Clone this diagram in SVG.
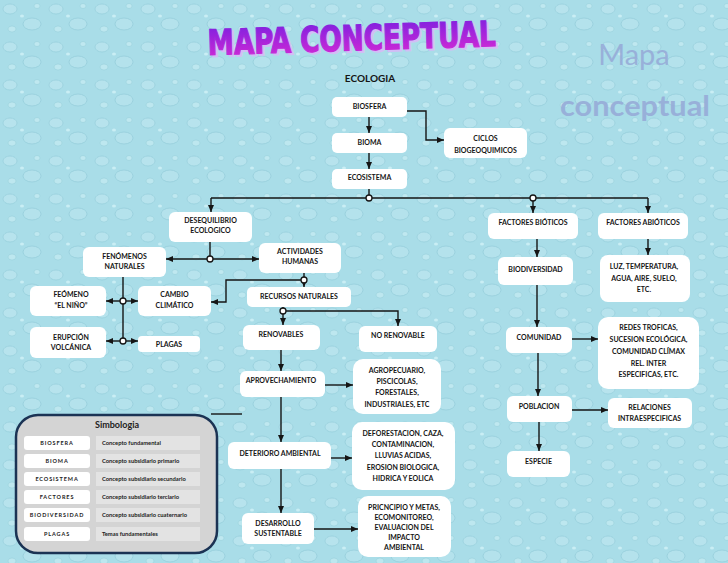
<svg xmlns="http://www.w3.org/2000/svg" width="728" height="563" viewBox="0 0 728 563">
<defs>
<style>
.n rect{fill:#ffffff}
.t{font-family:Lato,"Open Sans",sans-serif;font-weight:bold;font-size:7px;text-anchor:middle;fill:#151515}
.c path{fill:none;stroke:#151515;stroke-width:1.4}
.c path.a{marker-end:url(#ar)}
.c circle{fill:#ffffff;stroke:#151515;stroke-width:1.3}
.lg rect.w{fill:#ffffff}
.lg rect.g{fill:#e3e3e3}
.lk{font-family:Lato,"Open Sans",sans-serif;font-weight:bold;font-size:5.5px;letter-spacing:0.9px;text-anchor:middle;fill:#222}
.lv{font-family:Lato,"Open Sans",sans-serif;font-weight:bold;font-size:5.8px;fill:#222}
.wm{font-family:Lato,"Open Sans",sans-serif;fill:#97acd8;opacity:0.9}
.tt{font-family:"Liberation Sans Narrow","DejaVu Sans Condensed","DejaVu Sans",sans-serif;font-weight:900;font-size:35px;text-anchor:middle}
</style>
<marker id="ar" markerUnits="userSpaceOnUse" markerWidth="7" markerHeight="6" refX="7" refY="3" orient="auto">
<path d="M0,0 L7,3 L0,6 z" fill="#151515"/>
</marker>
<linearGradient id="tg" x1="0" y1="0" x2="0" y2="1">
<stop offset="0" stop-color="#7a20e0"/>
<stop offset="1" stop-color="#d82ad4"/>
</linearGradient>
<pattern id="drops" width="46" height="38" patternUnits="userSpaceOnUse">
<rect width="46" height="38" fill="#a9dde8"/>
<ellipse cx="10" cy="9" rx="7" ry="5" fill="#b7e3ed" stroke="#90cbd9" stroke-width="0.6"/>
<ellipse cx="32" cy="24" rx="9" ry="6" fill="#b4e2ec" stroke="#8dc8d7" stroke-width="0.6"/>
<ellipse cx="37" cy="6" rx="3" ry="2.5" fill="#bfe8f0" stroke="#92ccd9" stroke-width="0.5"/>
<ellipse cx="12" cy="29" rx="4" ry="3" fill="#bde7ef" stroke="#92ccd9" stroke-width="0.5"/>
<ellipse cx="22" cy="16" rx="2" ry="1.6" fill="#c9eef4"/>
</pattern>
</defs>
<rect width="728" height="563" fill="url(#drops)"/>

<g id="title" transform="rotate(-1.8 352 50.5)">
<text class="tt" x="354" y="52.5" textLength="288" lengthAdjust="spacingAndGlyphs" fill="#d2bdf6" stroke="#d2bdf6" stroke-width="1.2">MAPA CONCEPTUAL</text>
<text class="tt" x="352" y="50.5" textLength="288" lengthAdjust="spacingAndGlyphs" fill="url(#tg)" stroke="url(#tg)" stroke-width="1.2">MAPA CONCEPTUAL</text>
</g>
<g id="watermark">
<text class="wm" x="634" y="65" text-anchor="middle" font-size="29">Mapa</text>
<text class="wm" x="635" y="116" text-anchor="middle" font-size="28" font-weight="bold" textLength="150" lengthAdjust="spacingAndGlyphs">conceptual</text>
</g>
<text id="ecologia" x="370" y="82" font-family="Lato,'Open Sans',sans-serif" font-weight="bold" font-size="10" text-anchor="middle" fill="#151515">ECOLOGIA</text>

<g class="c" id="connectors">
<path class="a" d="M369,117 V133"/>
<path class="a" d="M369,153 V169"/>
<path class="a" d="M407,111 H426 V140 H444"/>
<path d="M369,189 V198"/>
<path d="M211,198 H648"/>
<path class="a" d="M211,198 V212"/>
<path class="a" d="M533,198 V213"/>
<path class="a" d="M648,198 V213"/>
<path d="M210,242 V259"/>
<path class="a" d="M210,259 H166"/>
<path class="a" d="M210,259 H259"/>
<path d="M123,277 V341"/>
<path class="a" d="M123,301 H106"/>
<path class="a" d="M123,301 H138"/>
<path class="a" d="M123,341 H106"/>
<path class="a" d="M123,341 H138"/>
<path class="a" d="M304,273 V287"/>
<path class="a" d="M304,280 H226 V302 H211"/>
<path class="a" d="M283,307 V325"/>
<path class="a" d="M283,311 H398 V326"/>
<path class="a" d="M281,350 V371"/>
<path class="a" d="M325,385 H353"/>
<path class="a" d="M281,397 V442"/>
<path d="M211,414 H242"/>
<path class="a" d="M331,458 H352"/>
<path class="a" d="M281,469 V513"/>
<path class="a" d="M314,529 H358"/>
<path class="a" d="M537,239 V257"/>
<path class="a" d="M648,239 V255"/>
<path class="a" d="M537,285 V327"/>
<path class="a" d="M572,339 H598"/>
<path class="a" d="M538,353 V396"/>
<path class="a" d="M572,410 H608"/>
<path class="a" d="M539,422 V451"/>
<circle cx="369" cy="198" r="3"/>
<circle cx="533" cy="198" r="3"/>
<circle cx="210" cy="259" r="3"/>
<circle cx="123" cy="301" r="3"/>
<circle cx="123" cy="341" r="3"/>
<circle cx="304" cy="280" r="3"/>
<circle cx="283" cy="311" r="3"/>
</g>

<g class="n" id="n-biosfera"><rect x="332" y="97" width="75" height="20" rx="5"/><text class="t" x="369.5" y="108.5">BIOSFERA</text></g>
<g class="n" id="n-bioma"><rect x="332" y="133" width="75" height="20" rx="5"/><text class="t" x="369.5" y="144.5">BIOMA</text></g>
<g class="n" id="n-ecosistema"><rect x="332" y="169" width="75" height="20" rx="5"/><text class="t" x="369.5" y="180">ECOSISTEMA</text></g>
<g class="n" id="n-ciclos"><rect x="444" y="128" width="83" height="30" rx="6"/><text class="t" x="485.5" y="140.5">CICLOS</text><text class="t" x="485.5" y="152.5">BIOGEOQUIMICOS</text></g>
<g class="n" id="n-desequilibrio"><rect x="169" y="212" width="83" height="30" rx="6"/><text class="t" x="210.5" y="222.5">DESEQUILIBRIO</text><text class="t" x="210.5" y="232.5">ECOLOGICO</text></g>
<g class="n" id="n-actividades"><rect x="259" y="243" width="82" height="30" rx="6"/><text class="t" x="300" y="253.5">ACTIVIDADES</text><text class="t" x="300" y="263.5">HUMANAS</text></g>
<g class="n" id="n-fenomenos"><rect x="83" y="247" width="83" height="30" rx="6"/><text class="t" x="124.5" y="258.5">FENÓMENOS</text><text class="t" x="124.5" y="268.5">NATURALES</text></g>
<g class="n" id="n-nino"><rect x="30" y="286" width="76" height="30" rx="6"/><text class="t" x="71" y="296.5">FEÓMENO</text><text class="t" x="71" y="307.5">“EL NIÑO”</text></g>
<g class="n" id="n-cambio"><rect x="138" y="286" width="73" height="30" rx="6"/><text class="t" x="174.5" y="296.5">CAMBIO</text><text class="t" x="174.5" y="307.5">CLIMÁTICO</text></g>
<g class="n" id="n-erupcion"><rect x="30" y="327" width="76" height="31" rx="6"/><text class="t" x="71" y="339.5">ERUPCIÓN</text><text class="t" x="71" y="349.5">VOLCÁNICA</text></g>
<g class="n" id="n-plagas"><rect x="138" y="336" width="62" height="16" rx="4"/><text class="t" x="169" y="346.5">PLAGAS</text></g>
<g class="n" id="n-recursos"><rect x="247" y="287" width="104" height="20" rx="5"/><text class="t" x="299" y="298.5">RECURSOS NATURALES</text></g>
<g class="n" id="n-renovables"><rect x="243" y="325" width="77" height="25" rx="6"/><text class="t" x="281" y="336.5">RENOVABLES</text></g>
<g class="n" id="n-norenovable"><rect x="359" y="326" width="78" height="26" rx="6"/><text class="t" x="398" y="337.5">NO RENOVABLE</text></g>
<g class="n" id="n-aprovechamiento"><rect x="240" y="371" width="85" height="26" rx="6"/><text class="t" x="281" y="382.5">APROVECHAMIENTO</text></g>
<g class="n" id="n-agropecuario"><rect x="353" y="359" width="88" height="55" rx="10"/><text class="t" x="397" y="372.5">AGROPECUARIO,</text><text class="t" x="397" y="383.5">PISCICOLAS,</text><text class="t" x="397" y="394.5">FORESTALES,</text><text class="t" x="397" y="406.5">INDUSTRIALES, ETC</text></g>
<g class="n" id="n-deterioro"><rect x="228" y="442" width="103" height="27" rx="6"/><text class="t" x="280" y="455.5">DETERIORO AMBIENTAL</text></g>
<g class="n" id="n-deforestacion"><rect x="352" y="422" width="103" height="68" rx="10"/><text class="t" x="403" y="435.5">DEFORESTACION, CAZA,</text><text class="t" x="403" y="446.5">CONTAMINACION,</text><text class="t" x="403" y="457.5">LLUVIAS ACIDAS,</text><text class="t" x="403" y="469.5">EROSION BIOLOGICA,</text><text class="t" x="403" y="480.5">HIDRICA Y EOLICA</text></g>
<g class="n" id="n-desarrollo"><rect x="242" y="513" width="72" height="31" rx="6"/><text class="t" x="278" y="525.5">DESARROLLO</text><text class="t" x="278" y="535.5">SUSTENTABLE</text></g>
<g class="n" id="n-principio"><rect x="358" y="496" width="93" height="61" rx="10"/><text class="t" x="404" y="509.5">PRICNCIPIO Y METAS,</text><text class="t" x="404" y="519.5">ECOMONITOREO,</text><text class="t" x="404" y="529.5">EVALUACION DEL</text><text class="t" x="404" y="539.5">IMPACTO</text><text class="t" x="404" y="549.5">AMBIENTAL</text></g>
<g class="n" id="n-bioticos"><rect x="488" y="213" width="90" height="26" rx="6"/><text class="t" x="533" y="224.5">FACTORES BIÓTICOS</text></g>
<g class="n" id="n-abioticos"><rect x="598" y="213" width="90" height="26" rx="6"/><text class="t" x="643" y="224.5">FACTORES ABIÓTICOS</text></g>
<g class="n" id="n-biodiversidad"><rect x="498" y="257" width="75" height="28" rx="6"/><text class="t" x="535.5" y="271.5">BIODIVERSIDAD</text></g>
<g class="n" id="n-luz"><rect x="600" y="255" width="90" height="47" rx="8"/><text class="t" x="644" y="268.5">LUZ, TEMPERATURA,</text><text class="t" x="644" y="280.5">AGUA, AIRE, SUELO,</text><text class="t" x="644" y="291.5">ETC.</text></g>
<g class="n" id="n-comunidad"><rect x="506" y="327" width="66" height="26" rx="6"/><text class="t" x="539" y="339.5">COMUNIDAD</text></g>
<g class="n" id="n-redes"><rect x="598" y="317" width="101" height="72" rx="10"/><text class="t" x="648.5" y="329.5">REDES TROFICAS,</text><text class="t" x="648.5" y="341.5">SUCESION ECOLÓGICA,</text><text class="t" x="648.5" y="353.5">COMUNIDAD CLÍMAX</text><text class="t" x="648.5" y="365.5">REL. INTER</text><text class="t" x="648.5" y="376.5">ESPECIFICAS, ETC.</text></g>
<g class="n" id="n-poblacion"><rect x="507" y="396" width="65" height="26" rx="6"/><text class="t" x="539" y="408.5">POBLACION</text></g>
<g class="n" id="n-relaciones"><rect x="608" y="398" width="84" height="30" rx="6"/><text class="t" x="649.5" y="409.5">RELACIONES</text><text class="t" x="649.5" y="420.5">INTRAESPECIFICAS</text></g>
<g class="n" id="n-especie"><rect x="507" y="451" width="63" height="26" rx="6"/><text class="t" x="538.5" y="463.5">ESPECIE</text></g>

<g class="lg" id="simbologia">
<rect x="16" y="415" width="201" height="138" rx="22" fill="#d4d4d4" stroke="#1b3354" stroke-width="2.5"/>
<text x="117" y="428" font-family="Lato,'Open Sans',sans-serif" font-weight="bold" font-size="9" text-anchor="middle" fill="#222">Simbologia</text>
<rect class="w" x="24" y="436" width="66" height="14" rx="3"/><rect class="g" x="96" y="436" width="104" height="14"/>
<text class="lk" x="57" y="445">BIOSFERA</text><text class="lv" x="102" y="445">Concepto fundamental</text>
<rect class="w" x="24" y="454" width="66" height="14" rx="3"/><rect class="g" x="96" y="454" width="104" height="14"/>
<text class="lk" x="57" y="463">BIOMA</text><text class="lv" x="102" y="463">Concepto subsidiario primario</text>
<rect class="w" x="24" y="472" width="66" height="14" rx="3"/><rect class="g" x="96" y="472" width="104" height="14"/>
<text class="lk" x="57" y="481">ECOSISTEMA</text><text class="lv" x="102" y="481">Concepto subsidiario secundario</text>
<rect class="w" x="24" y="490" width="66" height="14" rx="3"/><rect class="g" x="96" y="490" width="104" height="14"/>
<text class="lk" x="57" y="499">FACTORES</text><text class="lv" x="102" y="499">Concepto subsidiario terciario</text>
<rect class="w" x="24" y="508" width="66" height="14" rx="3"/><rect class="g" x="96" y="508" width="104" height="14"/>
<text class="lk" x="57" y="517">BIODIVERSIDAD</text><text class="lv" x="102" y="517">Concepto subsidiario cuaternario</text>
<rect class="w" x="24" y="527" width="66" height="14" rx="3"/><rect class="g" x="96" y="527" width="104" height="14"/>
<text class="lk" x="57" y="536">PLAGAS</text><text class="lv" x="102" y="536">Temas fundamentales</text>
</g>
</svg>
